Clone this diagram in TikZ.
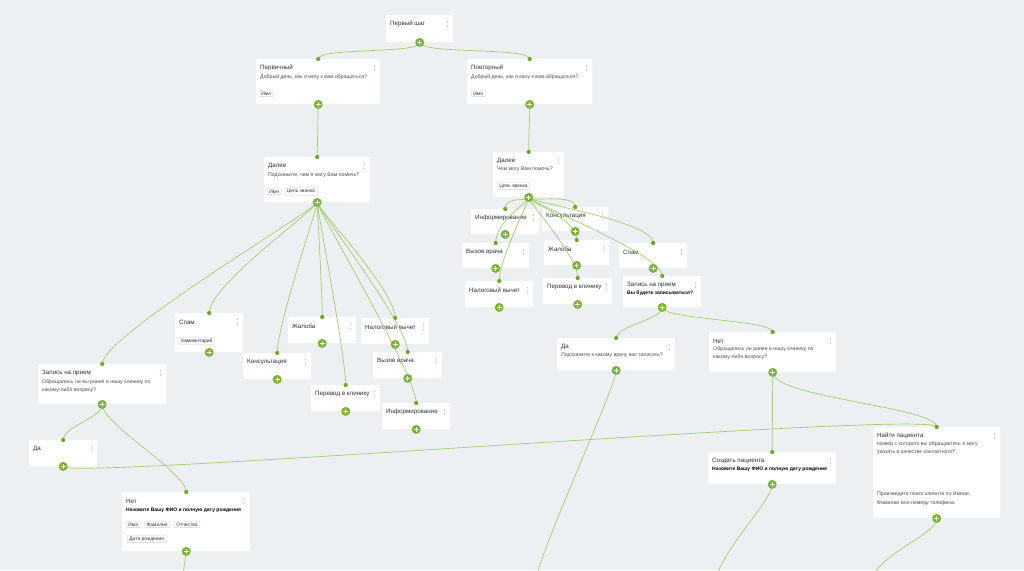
\documentclass[tikz,border=0pt]{standalone}
\usepackage{fontspec}
\setmainfont{Liberation Sans}
\usetikzlibrary{positioning, calc}
\definecolor{canvas}{RGB}{237,240,243}
\definecolor{leafgreen}{RGB}{122,181,47}
\definecolor{portgreen}{RGB}{108,170,36}
\definecolor{wiregreen}{RGB}{163,206,108}
\definecolor{inkdark}{RGB}{45,48,52}
\definecolor{inkgray}{RGB}{72,78,88}
\definecolor{dotgray}{RGB}{170,175,182}
\definecolor{tagline}{RGB}{205,209,214}

\tikzset{
  card/.style={fill=white, anchor=north west, inner sep=0pt, rounded corners=1pt},
  ttl/.style={anchor=west, inner sep=0pt, text=inkdark, font=\fontsize{6.2}{7}\selectfont},
  sub/.style={anchor=west, inner sep=0pt, text=inkgray, font=\fontsize{5.2}{8.5}\selectfont},
  subblock/.style={sub, anchor=north west, align=left},
  boldsub/.style={anchor=west, inner sep=0pt, text=black, font=\bfseries\fontsize{5}{6}\selectfont},
  tag/.style={draw=tagline, fill=white, rounded corners=1pt, anchor=north west,
    inner xsep=2.2pt, inner ysep=1.5pt, text=inkdark, font=\fontsize{4.9}{5.5}\selectfont},
  port/.style={circle, fill=portgreen, minimum size=4.2pt, inner sep=0pt},
  addbtn/.style={circle, fill=leafgreen, minimum size=9pt, inner sep=0pt,
    path picture={
      \draw[white, line width=1.1pt] ([xshift=-2.6pt]path picture bounding box.center) -- ([xshift=2.6pt]path picture bounding box.center);
      \draw[white, line width=1.1pt] ([yshift=-2.6pt]path picture bounding box.center) -- ([yshift=2.6pt]path picture bounding box.center);
    }},
  wire/.style={draw=wiregreen, line width=0.7pt},
}

% card: name, x, y, width, height, title
\newcommand{\flowcard}[6]{%
  \node[card, minimum width=#4pt, minimum height=#5pt] (#1) at (#2,#3) {};
  \node[ttl] (#1-t) at ([shift={(4,9)}]#1.north west) {#6};
  \foreach \dy in {6.5,9,11.5}
    \fill[dotgray] ([shift={(-6,\dy)}]#1.north east) circle (0.55pt);
  \coordinate (#1-in) at (#1.north);
  \coordinate (#1-out) at (#1.south);
}

\begin{document}
\begin{tikzpicture}[x=1pt, y=-1pt]
  \useasboundingbox (0,0) rectangle (1024,570);
  \fill[canvas] (0,0) rectangle (1024,570);
  \clip (0,0) rectangle (1024,570);

  % top of the flow
  \flowcard{first}{386}{15}{67}{27}{Первый шаг}
  \flowcard{prim}{256}{59}{124}{45}{Первичный}
  \node[sub] (prim-s) at ([shift={(4,18)}]prim.north west) {Добрый день, как я могу к вам обращаться?};
  \node[tag] (prim-g1) at ([shift={(3,31)}]prim.north west) {Имя};
  \flowcard{povt}{467}{59}{125}{45}{Повторный}
  \node[sub] (povt-s) at ([shift={(4,18)}]povt.north west) {Добрый день, как я могу к вам обращаться?};
  \node[tag] (povt-g1) at ([shift={(4,31)}]povt.north west) {Имя};

  \flowcard{daleeL}{264}{157}{106}{45}{Далее}
  \node[sub] (daleeL-s) at ([shift={(4,18)}]daleeL.north west) {Подскажите, чем я могу Вам помочь?};
  \node[tag] (daleeL-g1) at ([shift={(3,31)}]daleeL.north west) {Имя};
  \node[tag, right=3pt of daleeL-g1] (daleeL-g2) {Цель звонка};
  \flowcard{daleeR}{493}{152}{71}{45}{Далее}
  \node[sub] (daleeR-s) at ([shift={(4,17)}]daleeR.north west) {Чем могу Вам помочь?};
  \node[tag] (daleeR-g1) at ([shift={(4,30)}]daleeR.north west) {Цель звонка};

  % right branch
  \flowcard{infoR}{471}{209}{68}{25}{Информирование}
  \flowcard{consR}{542}{207}{66}{24}{Консультация}
  \flowcard{callR}{462}{243}{67}{25}{Вызов врача}
  \flowcard{complR}{544}{240}{65}{25}{Жалоба}
  \flowcard{spamR}{619}{243}{68}{25}{Спам}
  \flowcard{taxR}{465}{281}{68}{26}{Налоговый вычет}
  \flowcard{transR}{543}{278}{69}{26}{Перевод в клинику}
  \flowcard{apptR}{623}{276}{78}{31}{Запись на прием}
  \node[boldsub] (apptR-s) at ([shift={(4,17)}]apptR.north west) {Вы будете записываться?};
  \flowcard{yesR}{557}{338}{118}{32}{Да}
  \node[sub] (yesR-s) at ([shift={(4,17)}]yesR.north west) {Подскажите к какому врачу вас записать?};
  \flowcard{noR}{709}{332}{127}{40}{Нет}
  \node[subblock] (noR-s) at ([shift={(4,14)}]noR.north west) {Обращались ли ранее в нашу клинику по\\какому-либо вопросу?};
  \flowcard{create}{708}{452}{128}{32}{Создать пациента}
  \node[boldsub] (create-s) at ([shift={(4,17)}]create.north west) {Назовите Вашу ФИО и полную дату рождения};
  \flowcard{find}{873}{427}{127}{91}{Найти пациента}
  \node[subblock] (find-s) at ([shift={(4,14)}]find.north west) {Номер с которого вы обращаетесь я могу\\указать в качестве контактного?};
  \node[subblock] (find-h) at ([shift={(4,65)}]find.north west) {Произведите поиск клиента по Имени,\\Фамилии или номеру телефона.};

  % left branch
  \flowcard{spamL}{175}{313}{68}{39}{Спам}
  \node[tag] (spamL-g1) at ([shift={(4,24)}]spamL.north west) {Комментарий};
  \flowcard{complL}{288}{317}{68}{26}{Жалоба}
  \flowcard{taxL}{361}{318}{68}{26}{Налоговый вычет}
  \flowcard{consL}{243}{353}{68}{26}{Консультация}
  \flowcard{callL}{373}{352}{69}{26}{Вызов врача}
  \flowcard{transL}{311}{385}{69}{26}{Перевод в клинику}
  \flowcard{infoL}{382}{403}{68}{26}{Информирование}
  \flowcard{apptL}{38}{364}{128}{40}{Запись на прием}
  \node[subblock] (apptL-s) at ([shift={(4,15)}]apptL.north west) {Обращались ли вы ранее в нашу клинику по\\какому-либо вопросу?};
  \flowcard{yesL}{29}{440}{68}{26}{Да}
  \flowcard{noL}{122}{492}{128}{59}{Нет}
  \node[boldsub] (noL-s) at ([shift={(4,18)}]noL.north west) {Назовите Вашу ФИО и полную дату рождения};
  \node[tag] (noL-g1) at ([shift={(4,29)}]noL.north west) {Имя};
  \node[tag, right=4pt of noL-g1] (noL-g2) {Фамилия};
  \node[tag, right=4pt of noL-g2] (noL-g3) {Отчество};
  \node[tag] (noL-g4) at ([shift={(5,43)}]noL.north west) {Дата рождения};

  % loose ends below the frame
  \coordinate (yesR-end) at (537,575);
  \coordinate (create-end) at (717,575);
  \coordinate (find-end) at (873,575);
  \coordinate (noL-end) at (183,575);

  % connectors
  \draw[wire] (first-out) .. controls +(0,12) and +(0,-12) .. (prim-in);
  \draw[wire] (first-out) .. controls +(0,12) and +(0,-12) .. (povt-in);
  \draw[wire] (prim-out) -- (daleeL-in);
  \draw[wire] (povt-out) .. controls +(0,20) and +(0,-20) .. (daleeR-in);

  \draw[wire] (daleeL-out) .. controls +(0,6) and +(0,-28) .. (apptL-in);
  \draw[wire] (daleeL-out) .. controls +(0,6) and +(0,-28) .. (spamL-in);
  \draw[wire] (daleeL-out) .. controls +(0,6) and +(0,-28) .. (consL-in);
  \draw[wire] (daleeL-out) .. controls +(0,6) and +(0,-28) .. (complL-in);
  \draw[wire] (daleeL-out) .. controls +(0,6) and +(0,-28) .. (transL-in);
  \draw[wire] (daleeL-out) .. controls +(0,6) and +(0,-28) .. (taxL-in);
  \draw[wire] (daleeL-out) .. controls +(0,6) and +(0,-28) .. (callL-in);
  \draw[wire] (daleeL-out) .. controls +(0,6) and +(0,-28) .. (infoL-in);

  \draw[wire] (daleeR-out) .. controls +(0,5) and +(0,-14) .. (infoR-in);
  \draw[wire] (daleeR-out) .. controls +(0,5) and +(0,-14) .. (consR-in);
  \draw[wire] (daleeR-out) .. controls +(0,5) and +(0,-22) .. (callR-in);
  \draw[wire] (daleeR-out) .. controls +(0,5) and +(0,-22) .. (complR-in);
  \draw[wire] (daleeR-out) .. controls +(0,5) and +(0,-22) .. (spamR-in);
  \draw[wire] (daleeR-out) .. controls +(0,5) and +(0,-22) .. (taxR-in);
  \draw[wire] (daleeR-out) .. controls +(0,5) and +(0,-22) .. (transR-in);
  \draw[wire] (daleeR-out) .. controls +(0,5) and +(0,-22) .. (apptR-in);

  \draw[wire] (apptR-out) .. controls +(0,12) and +(0,-12) .. (yesR-in);
  \draw[wire] (apptR-out) .. controls +(0,12) and +(0,-12) .. (noR-in);
  \draw[wire] (noR-out) -- (create-in);
  \draw[wire] (noR-out) .. controls +(0,25) and +(0,-20) .. (find-in);

  \draw[wire] (apptL-out) .. controls +(0,14) and +(0,-14) .. (yesL-in);
  \draw[wire] (apptL-out) .. controls +(0,20) and +(0,-20) .. (noL-in);
  \draw[wire] (yesL-out) .. controls +(0,14) and +(0,-18) .. (find-in);

  \draw[wire] (yesR-out) .. controls +(0,15) and +(10,-40) .. (yesR-end);
  \draw[wire] (create-out) .. controls +(0,15) and +(10,-30) .. (create-end);
  \draw[wire] (find-out) .. controls +(0,15) and +(15,-25) .. (find-end);
  \draw[wire] (noL-out) -- (noL-end);

  % ports and add buttons on top
  \foreach \n in {prim,povt,daleeL,daleeR,infoR,consR,callR,complR,spamR,taxR,transR,apptR,yesR,noR,create,find,spamL,complL,taxL,consL,callL,transL,infoL,apptL,yesL,noL}
    \node[port] (\n-dot) at (\n-in) {};
  \foreach \n in {first,prim,povt,daleeL,daleeR,infoR,consR,callR,complR,spamR,taxR,transR,apptR,yesR,noR,create,find,spamL,complL,taxL,consL,callL,transL,infoL,apptL,yesL,noL}
    \node[addbtn] (\n-add) at (\n-out) {};
\end{tikzpicture}
\end{document}
